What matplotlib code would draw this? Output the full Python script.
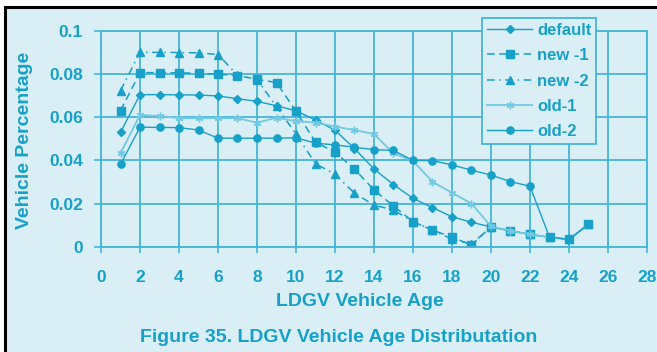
import matplotlib.pyplot as plt
from matplotlib.patches import Rectangle
from matplotlib.ticker import FixedLocator, FuncFormatter

# vehicle age (years)
ages = list(range(1, 26))

default = [0.0530, 0.0705, 0.0705, 0.0704, 0.0703, 0.0699, 0.0686, 0.0674, 0.0653, 0.0630,
           0.0587, 0.0540, 0.0455, 0.0360, 0.0288, 0.0224, 0.0181, 0.0139, 0.0113, 0.0092,
           0.0073, 0.0057, 0.0044, 0.0034, 0.0104]
new_1 = [0.0631, 0.0807, 0.0807, 0.0806, 0.0804, 0.0800, 0.0793, 0.0776, 0.0761, 0.0628,
         0.0485, 0.0438, 0.0360, 0.0263, 0.0189, 0.0116, 0.0077, 0.0044, 0.0008, 0.0092,
         0.0073, 0.0057, 0.0044, 0.0034, 0.0104]
new_2 = [0.0724, 0.0901, 0.0901, 0.0900, 0.0899, 0.0891, 0.0795, 0.0775, 0.0650, 0.0522,
         0.0385, 0.0336, 0.0248, 0.0193, 0.0170, 0.0116, 0.0077, 0.0035, 0.0012, 0.0092,
         0.0073, 0.0057, 0.0044, 0.0034, 0.0104]
old_1 = [0.0433, 0.0611, 0.0606, 0.0596, 0.0596, 0.0596, 0.0596, 0.0575, 0.0598, 0.0582,
         0.0575, 0.0557, 0.0541, 0.0522, 0.0433, 0.0397, 0.0301, 0.0250, 0.0200, 0.0094,
         0.0073, 0.0057, 0.0044, 0.0034, 0.0104]
old_2 = [0.0382, 0.0554, 0.0553, 0.0552, 0.0541, 0.0503, 0.0503, 0.0503, 0.0503, 0.0505,
         0.0480, 0.0472, 0.0461, 0.0450, 0.0446, 0.0400, 0.0399, 0.0379, 0.0355, 0.0332,
         0.0302, 0.0280, 0.0044, 0.0034, 0.0104]

x_ticks = list(range(0, 29, 2))
y_ticks = [0, 0.02, 0.04, 0.06, 0.08, 0.1]

BG = '#d9eef5'
CYAN = '#17a1c8'
GRID = '#45b6d7'
LIGHT = '#72c9e2'

plt.rcParams['font.family'] = ['Liberation Sans', 'DejaVu Sans']
plt.rcParams['font.weight'] = 'bold'

fig = plt.figure(figsize=(6.57, 3.52), dpi=100, facecolor='white')
# panel with black frame (top and left edges visible)
fig.patches.append(Rectangle((5 / 657, -0.1), 1.1, 1.1 - 7 / 352, transform=fig.transFigure,
                             facecolor=BG, edgecolor='black', lw=2.2, zorder=-5))

ax = fig.add_axes([101 / 657, 1 - 246.7 / 352, 546 / 657, 215.7 / 352])
ax.set_facecolor(BG)

ax.plot(ages, default, color=CYAN, lw=1.0, marker='D', ms=4.4, label='default')
ax.plot(ages, new_1, color=CYAN, lw=1.1, ls=(0, (5, 3)), marker='s', ms=5.4, label='new -1')
ax.plot(ages, new_2, color=CYAN, lw=1.1, ls=(0, (5, 3, 1, 3)), marker='^', ms=6.0, label='new -2')
ax.plot(ages, old_1, color=LIGHT, lw=1.3, marker=(6, 2, 0), ms=5.5, mew=1.0, label='old-1')
ax.plot(ages, old_2, color=CYAN, lw=1.0, marker='o', ms=5.2, label='old-2')

ax.set_xlim(0, 28)
ax.set_ylim(0, 0.1)
ax.xaxis.set_major_locator(FixedLocator(x_ticks))
ax.yaxis.set_major_locator(FixedLocator(y_ticks))
ax.yaxis.set_major_formatter(FuncFormatter(lambda v, p: '0' if v == 0 else ('%.2f' % v).rstrip('0')))
ax.grid(True, color=GRID, lw=1.3)
ax.set_axisbelow(True)
for s in ax.spines.values():
    s.set_color(GRID)
    s.set_linewidth(1.3)

ax.tick_params(axis='x', direction='inout', length=9, width=1.2, color=GRID, pad=12,
               labelsize=12.5, labelcolor=CYAN)
ax.tick_params(axis='y', direction='out', length=5, width=1.2, color=GRID, pad=8,
               labelsize=12.5, labelcolor=CYAN)

fig.text(24.5 / 657, 1 - 140 / 352, 'Vehicle Percentage', rotation=90, ha='center', va='center',
         fontsize=14, fontweight='bold', color=CYAN)
fig.text(359.5 / 657, 1 - 301 / 352, 'LDGV Vehicle Age', ha='center', va='center',
         fontsize=14, fontweight='bold', color=CYAN)
fig.text(338.5 / 657, 1 - 337 / 352, 'Figure 35. LDGV Vehicle Age Distributation', ha='center',
         va='center', fontsize=14, fontweight='bold', color=CYAN)

leg = fig.legend(loc='upper left', bbox_to_anchor=(482 / 657, 1 - 18 / 352), borderaxespad=0,
                 frameon=True, fancybox=False, numpoints=1, handlelength=2.7, handletextpad=0.3,
                 labelspacing=0.62, borderpad=0.3, prop={'size': 12, 'weight': 'bold'})
leg.get_frame().set_facecolor(BG)
leg.get_frame().set_edgecolor(GRID)
leg.get_frame().set_linewidth(1.3)
leg.get_frame().set_alpha(1)
for t in leg.get_texts():
    t.set_color(CYAN)

fig.savefig('out.png', dpi=100, facecolor=fig.get_facecolor())
